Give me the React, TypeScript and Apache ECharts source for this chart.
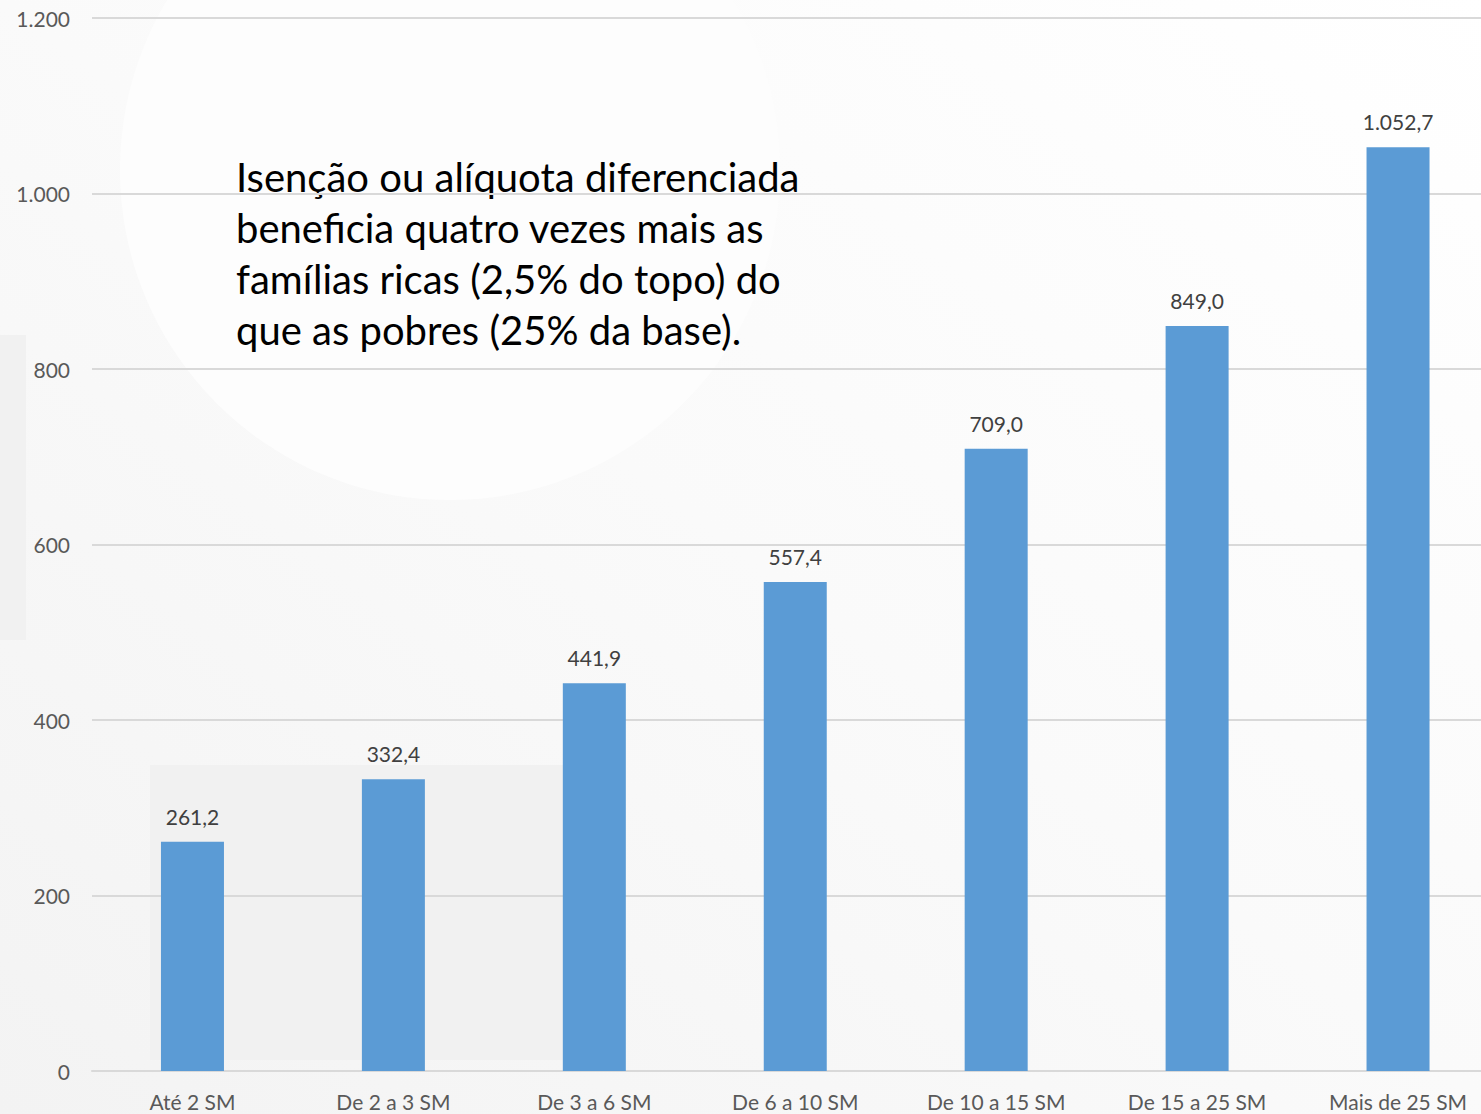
import React, { useEffect, useRef } from "react";
import * as echarts from "echarts";

const categories = ["Até 2 SM", "De 2 a 3 SM", "De 3 a 6 SM", "De 6 a 10 SM", "De 10 a 15 SM", "De 15 a 25 SM", "Mais de 25 SM"];
const values = [261.2, 332.4, 441.9, 557.4, 709.0, 849.0, 1052.7];
const annotationLines = [
  "Isenção ou alíquota diferenciada",
  "beneficia quatro vezes mais as",
  "famílias ricas (2,5% do topo) do",
  "que as pobres (25% da base).",
];

const FONT = "Lato, 'Open Sans', sans-serif";

function fmt(v: number, decimals: number): string {
  const fixed = v.toFixed(decimals);
  const [intPart, dec] = fixed.split(".");
  const withSep = intPart.replace(/\B(?=(\d{3})+(?!\d))/g, ".");
  return dec !== undefined ? withSep + "," + dec : withSep;
}

export default function App() {
  const ref = useRef<HTMLDivElement>(null);
  useEffect(() => {
    document.body.style.overflow = "hidden";
    if (!ref.current) return;
    const chart = echarts.init(ref.current, undefined, { renderer: "svg" });
    chart.setOption({
      animation: false,
      backgroundColor: "#ffffff",
      graphic: [
        {
          type: "rect", z: -10, silent: true,
          shape: { x: 0, y: 0, width: 1500, height: 1114 },
          style: {
            fill: new echarts.graphic.LinearGradient(0, 1, 1, 0, [
              { offset: 0, color: "#f3f3f3" },
              { offset: 0.5, color: "#fafafa" },
              { offset: 1, color: "#ffffff" },
            ]),
          },
        },
        { type: "rect", z: -9, silent: true, shape: { x: 0, y: 335, width: 26, height: 305 }, style: { fill: "#f1f1f1" } },
        { type: "rect", z: -9, silent: true, shape: { x: 150, y: 765, width: 420, height: 295 }, style: { fill: "#f1f1f1" } },
        { type: "circle", z: -9, silent: true, shape: { cx: 450, cy: 170, r: 330 }, style: { fill: "#fdfdfd" } },
        {
          type: "text",
          left: 236,
          top: 151,
          style: {
            text: annotationLines.join("\n"),
            font: `40px ${FONT}`,
            lineHeight: 51,
            fill: "#000000",
          },
        },
      ],
      grid: { left: 92, right: 1.5, top: 18, bottom: 43, containLabel: false },
      xAxis: {
        type: "category",
        data: categories,
        axisLine: { show: true, lineStyle: { color: "#d9d9d9", width: 2 } },
        axisTick: { show: false },
        axisLabel: { color: "#595959", fontSize: 21, fontFamily: FONT, margin: 20, interval: 0 },
      },
      yAxis: {
        type: "value",
        min: 0,
        max: 1200,
        interval: 200,
        axisLine: { show: false },
        axisTick: { show: false },
        splitLine: { lineStyle: { color: "#d9d9d9", width: 2 } },
        axisLabel: {
          color: "#595959",
          fontSize: 21,
          fontFamily: FONT,
          margin: 22,
          formatter: (v: number) => fmt(v, 0),
        },
      },
      series: [
        {
          type: "bar",
          data: values,
          barWidth: 63,
          itemStyle: { color: "#5b9bd5" },
          label: {
            show: true,
            position: "top",
            distance: 15,
            color: "#404040",
            fontSize: 21,
            fontFamily: FONT,
            formatter: (p: any) => fmt(p.value, 1),
          },
        },
      ],
    });
    return () => chart.dispose();
  }, []);
  return <div ref={ref} style={{ position: "fixed", left: 0, top: 0, width: 1500, height: 1114 }} />;
}
